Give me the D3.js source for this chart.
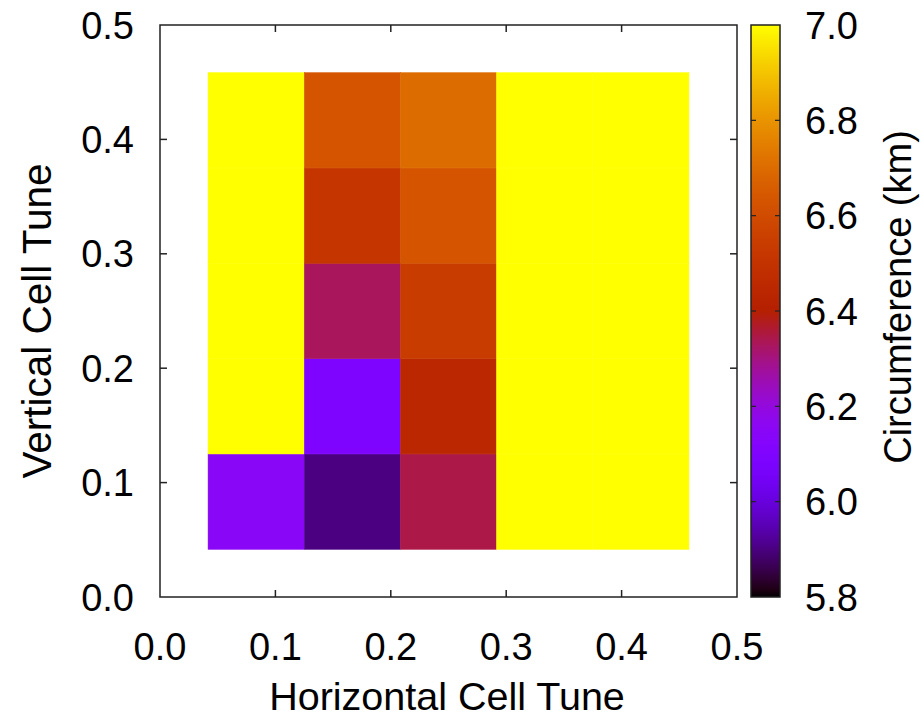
<!DOCTYPE html>
<html>
<head>
<meta charset="utf-8">
<script src="https://cdn.jsdelivr.net/npm/d3@7"></script>
<style>
  body { margin: 0; background: #fff; }
  text { font-family: "Liberation Sans", Arial, sans-serif; fill: #000; }
</style>
</head>
<body>
<div id="chart"></div>
<script>
// cell centres (horizontal / vertical tune)
let hTune = [0.0833, 0.1667, 0.25, 0.3333, 0.4167];
let vTune = [0.0833, 0.1667, 0.25, 0.3333, 0.4167];
// circumference (km), one row per vertical tune, bottom to top
let circ = [
    [6.15, 5.90, 6.345, 7.0, 7.0],
    [7.0, 6.10, 6.44, 7.0, 7.0],
    [7.0, 6.33, 6.54, 7.0, 7.0],
    [7.0, 6.51, 6.63, 7.0, 7.0],
    [7.0, 6.63, 6.70, 7.0, 7.0]
];
let cellSize = 0.0833;
let axisTicks = [0.0, 0.1, 0.2, 0.3, 0.4, 0.5];
let cbTicks = [5.8, 6.0, 6.2, 6.4, 6.6, 6.8, 7.0];
let cbRange = [5.8, 7.0];

let W = 924, H = 717;
let fs = 38;

let svg = d3.select("#chart").append("svg")
    .attr("width", W)
    .attr("height", H);

let x = d3.scaleLinear().domain([0, 0.5]).range([160, 737]);
let y = d3.scaleLinear().domain([0, 0.5]).range([597, 25]);

// gnuplot default palette (rgbformulae 7,5,15)
function pal(t) {
    t = Math.max(0, Math.min(1, t));
    let r = Math.sqrt(t), g = t * t * t, b = Math.max(0, Math.sin(2 * Math.PI * t));
    return d3.rgb(r * 255, g * 255, b * 255).toString();
}
let norm = d3.scaleLinear().domain(cbRange).range([0, 1]).clamp(true);
let color = v => pal(norm(v));

// cells
let cells = [];
circ.forEach((row, j) => row.forEach((v, i) => cells.push({x: hTune[i], y: vTune[j], v: v})));

svg.append("g").selectAll("rect")
    .data(cells)
    .enter().append("rect")
    .attr("x", d => x(d.x - cellSize / 2))
    .attr("y", d => y(d.y + cellSize / 2))
    .attr("width", x(cellSize) - x(0))
    .attr("height", y(0) - y(cellSize))
    .attr("fill", d => color(d.v))
    .attr("stroke", d => color(d.v))
    .attr("stroke-width", 0.5);

// frame with inward ticks on all sides
let frame = svg.append("g").attr("stroke", "#222").attr("stroke-width", 1.5).attr("fill", "none");
frame.append("rect")
    .attr("x", x(0)).attr("y", y(0.5))
    .attr("width", x(0.5) - x(0)).attr("height", y(0) - y(0.5));

let tl = 7;
axisTicks.slice(1, -1).forEach(t => {
    frame.append("line").attr("x1", x(t)).attr("x2", x(t)).attr("y1", y(0)).attr("y2", y(0) - tl);
    frame.append("line").attr("x1", x(t)).attr("x2", x(t)).attr("y1", y(0.5)).attr("y2", y(0.5) + tl);
    frame.append("line").attr("y1", y(t)).attr("y2", y(t)).attr("x1", x(0)).attr("x2", x(0) + tl);
    frame.append("line").attr("y1", y(t)).attr("y2", y(t)).attr("x1", x(0.5)).attr("x2", x(0.5) - tl);
});

// tick labels
svg.append("g").selectAll("text")
    .data(axisTicks)
    .enter().append("text")
    .attr("x", d => x(d))
    .attr("y", 660)
    .attr("text-anchor", "middle")
    .attr("font-size", fs)
    .text(d => d.toFixed(1));

svg.append("g").selectAll("text")
    .data(axisTicks)
    .enter().append("text")
    .attr("x", 134)
    .attr("y", d => y(d) + 13.5)
    .attr("text-anchor", "end")
    .attr("font-size", fs)
    .text(d => d.toFixed(1));

// axis titles
svg.append("text")
    .attr("x", 447)
    .attr("y", 710)
    .attr("text-anchor", "middle")
    .attr("font-size", 39.5)
    .text("Horizontal Cell Tune");

svg.append("text")
    .attr("transform", "translate(51,321) rotate(-90)")
    .attr("text-anchor", "middle")
    .attr("font-size", 40.5)
    .text("Vertical Cell Tune");

// colour box
let cbX0 = 751, cbX1 = 780;
let cy = d3.scaleLinear().domain(cbRange).range([597, 25]);

let grad = svg.append("defs").append("linearGradient")
    .attr("id", "cbgrad")
    .attr("x1", 0).attr("y1", 1).attr("x2", 0).attr("y2", 0);
grad.selectAll("stop")
    .data(d3.range(0, 1.0001, 0.01))
    .enter().append("stop")
    .attr("offset", d => d)
    .attr("stop-color", d => pal(d));

svg.append("rect")
    .attr("x", cbX0).attr("y", cy(cbRange[1]))
    .attr("width", cbX1 - cbX0).attr("height", cy(cbRange[0]) - cy(cbRange[1]))
    .attr("fill", "url(#cbgrad)")
    .attr("stroke", "#222")
    .attr("stroke-width", 1.5);

let cbt = svg.append("g").attr("stroke", "#222").attr("stroke-width", 1.2);
cbTicks.slice(1, -1).forEach(t => {
    cbt.append("line").attr("x1", cbX0).attr("x2", cbX0 + 5).attr("y1", cy(t)).attr("y2", cy(t));
    cbt.append("line").attr("x1", cbX1).attr("x2", cbX1 - 5).attr("y1", cy(t)).attr("y2", cy(t));
});

svg.append("g").selectAll("text")
    .data(cbTicks)
    .enter().append("text")
    .attr("x", 805)
    .attr("y", d => cy(d) + 13.5)
    .attr("font-size", fs)
    .text(d => d.toFixed(1));

svg.append("text")
    .attr("transform", "translate(911,297) rotate(-90)")
    .attr("text-anchor", "middle")
    .attr("font-size", 38)
    .text("Circumference (km)");
</script>
</body>
</html>
